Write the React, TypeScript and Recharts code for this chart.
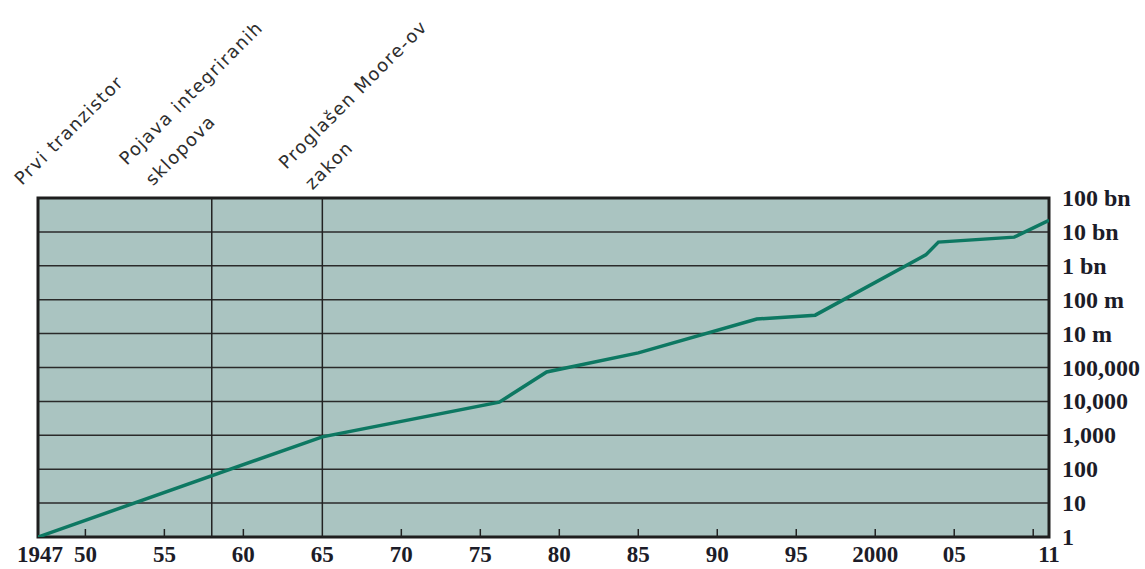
import React from 'react';
import { LineChart, Line, XAxis, YAxis, CartesianGrid, ReferenceLine, ReferenceArea } from 'recharts';

// transistor count per chip
const years = [1947, 1965, 1976.2, 1979.2, 1985, 1992.5, 1996.2, 2003.2, 2004, 2008.8, 2011];
const counts = [1, 900, 9500, 74000, 270000, 2.7e6, 3.5e6, 2.1e8, 5e8, 7e8, 2.2e9];

const xTicks = [1947, 1950, 1955, 1960, 1965, 1970, 1975, 1980, 1985, 1990, 1995, 2000, 2005, 2010, 2011];
const xTickLabels = ['1947', '50', '55', '60', '65', '70', '75', '80', '85', '90', '95', '2000', '05', '', '11'];
const yTicks = [1, 10, 100, 1e3, 1e4, 1e5, 1e6, 1e7, 1e8, 1e9, 1e10];
const yTickLabels = ['1', '10', '100', '1,000', '10,000', '100,000', '10 m', '100 m', '1 bn', '10 bn', '100 bn'];

const milestoneYears = [1947, 1958, 1965];
const milestoneLabels = [['Prvi tranzistor'], ['Pojava integriranih', 'sklopova'], ['Proglašen Moore-ov', 'zakon']];

const data = years.map((year, i) => ({ year, count: counts[i] }));

const serif = '"Liberation Serif", "Times New Roman", serif';
const labelOffsets = [
  { dx: -16, dy: -12 },
  { dx: -85, dy: -32 },
  { dx: -36, dy: -28 },
];

function XTick({ x, y, payload }: any) {
  const i = xTicks.indexOf(payload.value);
  const mark = payload.value !== 1947 && payload.value !== 1965 && payload.value !== 2011;
  return (
    <g>
      {mark && <line x1={x} x2={x} y1={y} y2={y - 8} stroke="#222" strokeWidth={1.5} />}
      <text x={payload.value === 1947 ? x + 2 : x} y={y + 25} textAnchor="middle" fontFamily={serif} fontWeight="bold" fontSize={23} fill="#1c1c28">
        {xTickLabels[i]}
      </text>
    </g>
  );
}

function YTick({ x, y, payload }: any) {
  const i = Math.round(Math.log10(payload.value));
  return (
    <text x={x + 13} y={y + 8} textAnchor="start" fontFamily={serif} fontWeight="bold" fontSize={24} fill="#1c1c28">
      {yTickLabels[i]}
    </text>
  );
}

function MilestoneLabel({ viewBox, lines, dx, dy }: any) {
  if (!viewBox) return null;
  const ax = viewBox.x + dx;
  const ay = viewBox.y + dy;
  return (
    <text x={ax} y={ay} transform={`rotate(-45 ${ax} ${ay})`} fontFamily='"DejaVu Sans", sans-serif' fontSize={18} letterSpacing={1.3} fill="#2e2e2e">
      {lines.map((l: string, i: number) => (
        <tspan key={i} x={i === 0 ? ax : ax + 4} dy={i === 0 ? 0 : 33}>{l}</tspan>
      ))}
    </text>
  );
}

export default function App() {
  return (
    <div style={{ position: 'absolute', left: 0, top: 0, width: 1145, height: 569, background: '#fff' }}>
      <LineChart width={1145} height={569} data={data} margin={{ top: 198, right: 0, bottom: 0, left: 38 }}>
        <CartesianGrid horizontal vertical={false} stroke="#2a2a2a" strokeWidth={1.5} fill="#aac4c1" fillOpacity={1} />
        <XAxis dataKey="year" type="number" domain={[1947, 2011]} ticks={xTicks} interval={0} height={32}
          axisLine={false} tickLine={false} tickSize={0} tickMargin={0} tick={<XTick />} allowDataOverflow />
        <YAxis orientation="right" type="number" scale="log" domain={[1, 1e10]} ticks={yTicks} interval={0} width={96}
          axisLine={false} tickLine={false} tickSize={0} tickMargin={0} tick={<YTick />} allowDataOverflow />
        {milestoneYears.map((yr, i) => (
          <ReferenceLine key={yr} x={yr} stroke={i === 0 ? 'none' : '#222'} strokeWidth={1.5}
            label={<MilestoneLabel lines={milestoneLabels[i]} dx={labelOffsets[i].dx} dy={labelOffsets[i].dy} />} />
        ))}
        <ReferenceArea x1={1947} x2={2011} y1={1} y2={1e10} fill="none" fillOpacity={0} stroke="#1e1e1e" strokeWidth={3} />
        <Line type="linear" dataKey="count" stroke="#0d7862" strokeWidth={3.5} dot={false} isAnimationActive={false} />
      </LineChart>
    </div>
  );
}
